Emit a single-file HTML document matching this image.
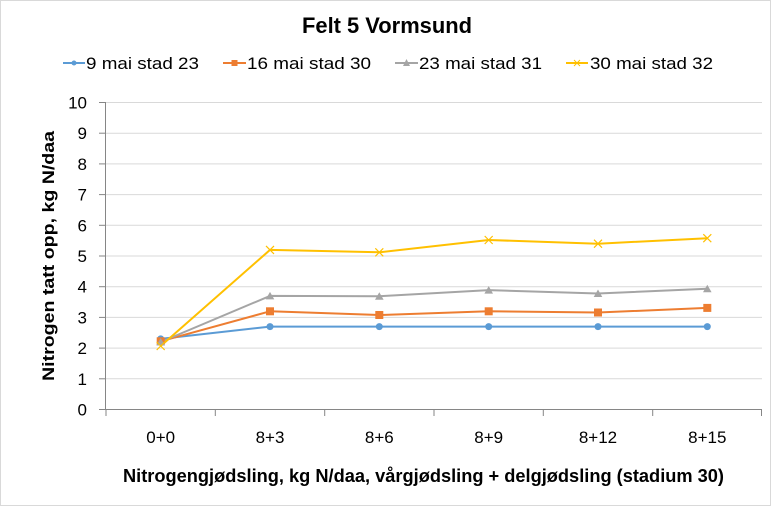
<!DOCTYPE html>
<html><head><meta charset="utf-8"><style>
html,body{margin:0;padding:0;background:#fff;}
svg{display:block;}
text{font-family:"Liberation Sans",sans-serif;fill:#000;}
</style></head><body>
<svg width="774" height="506" viewBox="0 0 774 506" xmlns="http://www.w3.org/2000/svg">
<rect x="0.5" y="0.5" width="770" height="505" fill="#fff" stroke="#d9d9d9" stroke-width="1"/>
<text x="387" y="33" font-size="22" font-weight="bold" text-anchor="middle" textLength="170" lengthAdjust="spacingAndGlyphs">Felt 5 Vormsund</text>
<!-- legend -->
<g stroke-width="2">
<line x1="63" y1="63" x2="85" y2="63" stroke="#5b9bd5"/><circle cx="74" cy="63" r="2.5" fill="#5b9bd5"/>
<line x1="223" y1="63" x2="246" y2="63" stroke="#ed7d31"/><rect x="231.5" y="60" width="6" height="6" fill="#ed7d31"/>
<line x1="395" y1="63" x2="418" y2="63" stroke="#a5a5a5"/><path d="M406.5 59 L410 66 L403 66 Z" fill="#a5a5a5"/>
<line x1="566" y1="63" x2="588" y2="63" stroke="#ffc000"/><path d="M574 60 L580 66 M580 60 L574 66" stroke="#ffc000" stroke-width="1"/>
</g>
<g font-size="17">
<text x="86" y="69" textLength="113" lengthAdjust="spacingAndGlyphs">9 mai stad 23</text>
<text x="247" y="69" textLength="124" lengthAdjust="spacingAndGlyphs">16 mai stad 30</text>
<text x="419" y="69" textLength="123" lengthAdjust="spacingAndGlyphs">23 mai stad 31</text>
<text x="590" y="69" textLength="123" lengthAdjust="spacingAndGlyphs">30 mai stad 32</text>
</g>
<!-- gridlines -->
<g stroke="#d9d9d9" stroke-width="1">
<line x1="106" y1="378.8" x2="762" y2="378.8"/>
<line x1="106" y1="348.1" x2="762" y2="348.1"/>
<line x1="106" y1="317.4" x2="762" y2="317.4"/>
<line x1="106" y1="286.7" x2="762" y2="286.7"/>
<line x1="106" y1="256.0" x2="762" y2="256.0"/>
<line x1="106" y1="225.3" x2="762" y2="225.3"/>
<line x1="106" y1="194.6" x2="762" y2="194.6"/>
<line x1="106" y1="163.9" x2="762" y2="163.9"/>
<line x1="106" y1="133.2" x2="762" y2="133.2"/>
<line x1="106" y1="102.5" x2="762" y2="102.5"/>
</g>
<!-- axes -->
<g stroke="#868686" stroke-width="1">
<line x1="105.5" y1="102.5" x2="105.5" y2="409.5"/>
<line x1="105.5" y1="409.5" x2="762" y2="409.5"/>
<line x1="99" y1="409.5" x2="106" y2="409.5"/>
<line x1="99" y1="378.8" x2="106" y2="378.8"/>
<line x1="99" y1="348.1" x2="106" y2="348.1"/>
<line x1="99" y1="317.4" x2="106" y2="317.4"/>
<line x1="99" y1="286.7" x2="106" y2="286.7"/>
<line x1="99" y1="256.0" x2="106" y2="256.0"/>
<line x1="99" y1="225.3" x2="106" y2="225.3"/>
<line x1="99" y1="194.6" x2="106" y2="194.6"/>
<line x1="99" y1="163.9" x2="106" y2="163.9"/>
<line x1="99" y1="133.2" x2="106" y2="133.2"/>
<line x1="99" y1="102.5" x2="106" y2="102.5"/>
<line x1="106" y1="409.5" x2="106" y2="416"/>
<line x1="215.3" y1="409.5" x2="215.3" y2="416"/>
<line x1="324.7" y1="409.5" x2="324.7" y2="416"/>
<line x1="434" y1="409.5" x2="434" y2="416"/>
<line x1="543.3" y1="409.5" x2="543.3" y2="416"/>
<line x1="652.7" y1="409.5" x2="652.7" y2="416"/>
<line x1="761.5" y1="409.5" x2="761.5" y2="416"/>
</g>
<!-- y tick labels -->
<g font-size="17" text-anchor="end">
<text x="87" y="415.5">0</text>
<text x="87" y="384.8">1</text>
<text x="87" y="354.1">2</text>
<text x="87" y="323.4">3</text>
<text x="87" y="292.7">4</text>
<text x="87" y="262.0">5</text>
<text x="87" y="231.3">6</text>
<text x="87" y="200.6">7</text>
<text x="87" y="169.9">8</text>
<text x="87" y="139.2">9</text>
<text x="87" y="108.5">10</text>
</g>
<!-- x tick labels -->
<g font-size="17" text-anchor="middle">
<text x="160.7" y="443">0+0</text>
<text x="270" y="443">8+3</text>
<text x="379.3" y="443">8+6</text>
<text x="488.7" y="443">8+9</text>
<text x="598" y="443">8+12</text>
<text x="707.3" y="443">8+15</text>
</g>
<text x="423.5" y="482" font-size="18" font-weight="bold" text-anchor="middle" textLength="601" lengthAdjust="spacingAndGlyphs">Nitrogengjødsling, kg N/daa, vårgjødsling + delgjødsling (stadium 30)</text>
<text transform="translate(54,256) rotate(-90)" font-size="17" font-weight="bold" text-anchor="middle" textLength="250" lengthAdjust="spacingAndGlyphs">Nitrogen tatt opp, kg N/daa</text>
<!-- series -->
<g fill="none" stroke-width="2" stroke-linejoin="round">
<polyline stroke="#5b9bd5" points="160.7,338.9 270,326.6 379.3,326.6 488.7,326.6 598,326.6 707.3,326.6"/>
<polyline stroke="#ed7d31" points="160.7,341.3 270,311.3 379.3,315.0 488.7,311.3 598,312.5 707.3,307.9"/>
<polyline stroke="#a5a5a5" points="160.7,342.0 270,295.9 379.3,296.2 488.7,290.1 598,293.5 707.3,288.8"/>
<polyline stroke="#ffc000" points="160.7,346.0 270,249.9 379.3,252.3 488.7,240.0 598,243.7 707.3,238.2"/>
</g>
<g fill="#5b9bd5">
<circle cx="160.7" cy="338.9" r="3.5"/><circle cx="270" cy="326.6" r="3.5"/><circle cx="379.3" cy="326.6" r="3.5"/><circle cx="488.7" cy="326.6" r="3.5"/><circle cx="598" cy="326.6" r="3.5"/><circle cx="707.3" cy="326.6" r="3.5"/>
</g>
<g fill="#ed7d31">
<rect x="156.7" y="337.3" width="8" height="8"/><rect x="266" y="307.3" width="8" height="8"/><rect x="375.3" y="311" width="8" height="8"/><rect x="484.7" y="307.3" width="8" height="8"/><rect x="594" y="308.5" width="8" height="8"/><rect x="703.3" y="303.9" width="8" height="8"/>
</g>
<g fill="#a5a5a5">
<path d="M160.7 338 L165 345.5 L156.4 345.5 Z"/>
<path d="M270 291.9 L274.3 299.4 L265.7 299.4 Z"/>
<path d="M379.3 292.2 L383.6 299.7 L375 299.7 Z"/>
<path d="M488.7 286.1 L493 293.6 L484.4 293.6 Z"/>
<path d="M598 289.5 L602.3 297 L593.7 297 Z"/>
<path d="M707.3 284.8 L711.6 292.3 L703 292.3 Z"/>
</g>
<g stroke="#ffc000" stroke-width="1.2">
<path d="M156.7 342 L164.7 350 M164.7 342 L156.7 350"/>
<path d="M266 245.9 L274 253.9 M274 245.9 L266 253.9"/>
<path d="M375.3 248.3 L383.3 256.3 M383.3 248.3 L375.3 256.3"/>
<path d="M484.7 236 L492.7 244 M492.7 236 L484.7 244"/>
<path d="M594 239.7 L602 247.7 M602 239.7 L594 247.7"/>
<path d="M703.3 234.2 L711.3 242.2 M711.3 234.2 L703.3 242.2"/>
</g>
</svg>
</body></html>
